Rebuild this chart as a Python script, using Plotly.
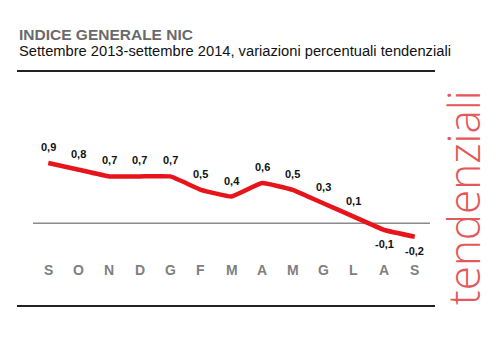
import plotly.graph_objects as go

months = ["S", "O", "N", "D", "G", "F", "M", "A", "M", "G", "L", "A", "S"]
values = [0.9, 0.8, 0.7, 0.7, 0.7, 0.5, 0.4, 0.6, 0.5, 0.3, 0.1, -0.1, -0.2]
value_labels = ["0,9", "0,8", "0,7", "0,7", "0,7", "0,5", "0,4", "0,6", "0,5", "0,3", "0,1", "-0,1", "-0,2"]

title = "INDICE GENERALE NIC"
subtitle = "Settembre 2013-settembre 2014, variazioni percentuali tendenziali"
side_text = "tendenziali"

W, H = 500, 354
L, R, T, B = 33, 430, 100, 258


def px_x(p):
    return (p - L) / (R - L)


def px_y(p):
    return (B - p) / (B - T)


xs = list(range(len(months)))

fig = go.Figure()
fig.add_trace(go.Scatter(x=xs, y=values, mode="lines",
                         line=dict(color="#e8141b", width=4.5, shape="spline", smoothing=0.3),
                         hoverinfo="skip", showlegend=False))

ann = []
for i, (v, t) in enumerate(zip(values, value_labels)):
    ann.append(dict(x=i, y=v, xref="x", yref="y", text=t, showarrow=False,
                    yshift=16 if v >= 0 else -14,
                    font=dict(family="Liberation Sans", size=11, color="#111111", weight="bold")))
for i, m in enumerate(months):
    ann.append(dict(x=i, y=px_y(270), xref="x", yref="paper", yanchor="middle", text=m, showarrow=False,
                    font=dict(family="Liberation Sans", size=14, color="#7f7f7f", weight="bold")))
ann.append(dict(x=px_x(17), y=px_y(34), xref="paper", yref="paper", xanchor="left", yanchor="middle",
                text=title, showarrow=False,
                font=dict(family="Liberation Sans", size=15.5, color="#6a6a6a", weight="bold")))
ann.append(dict(x=px_x(17), y=px_y(51), xref="paper", yref="paper", xanchor="left", yanchor="middle",
                text=subtitle, showarrow=False,
                font=dict(family="Liberation Sans", size=14.7, color="#111111")))
ann.append(dict(x=px_x(463), y=px_y(198), xref="paper", yref="paper", xanchor="center", yanchor="middle",
                text=side_text, showarrow=False, textangle=-90,
                font=dict(family="Open Sans", size=44, color="#e4575a", weight=300)))

shapes = [
    dict(type="line", xref="paper", yref="paper", x0=px_x(17), x1=px_x(435), y0=px_y(71), y1=px_y(71),
         line=dict(color="#222222", width=2)),
    dict(type="line", xref="paper", yref="paper", x0=px_x(17), x1=px_x(435), y0=px_y(306), y1=px_y(306),
         line=dict(color="#222222", width=2)),
    dict(type="line", xref="paper", yref="y", x0=0, x1=1, y0=0, y1=0, layer="below",
         line=dict(color="#8a8a8a", width=1.5)),
]

fig.update_layout(
    width=W, height=H,
    margin=dict(l=L, r=W - R, t=T, b=H - B, pad=0),
    paper_bgcolor="white", plot_bgcolor="white",
    xaxis=dict(range=[-0.5, len(months) - 0.5], visible=False, fixedrange=True),
    yaxis=dict(range=[-(B - 223.3) / 67, (223.3 - T) / 67], visible=False, fixedrange=True),
    annotations=ann, shapes=shapes,
)

fig.write_html("out.html")
